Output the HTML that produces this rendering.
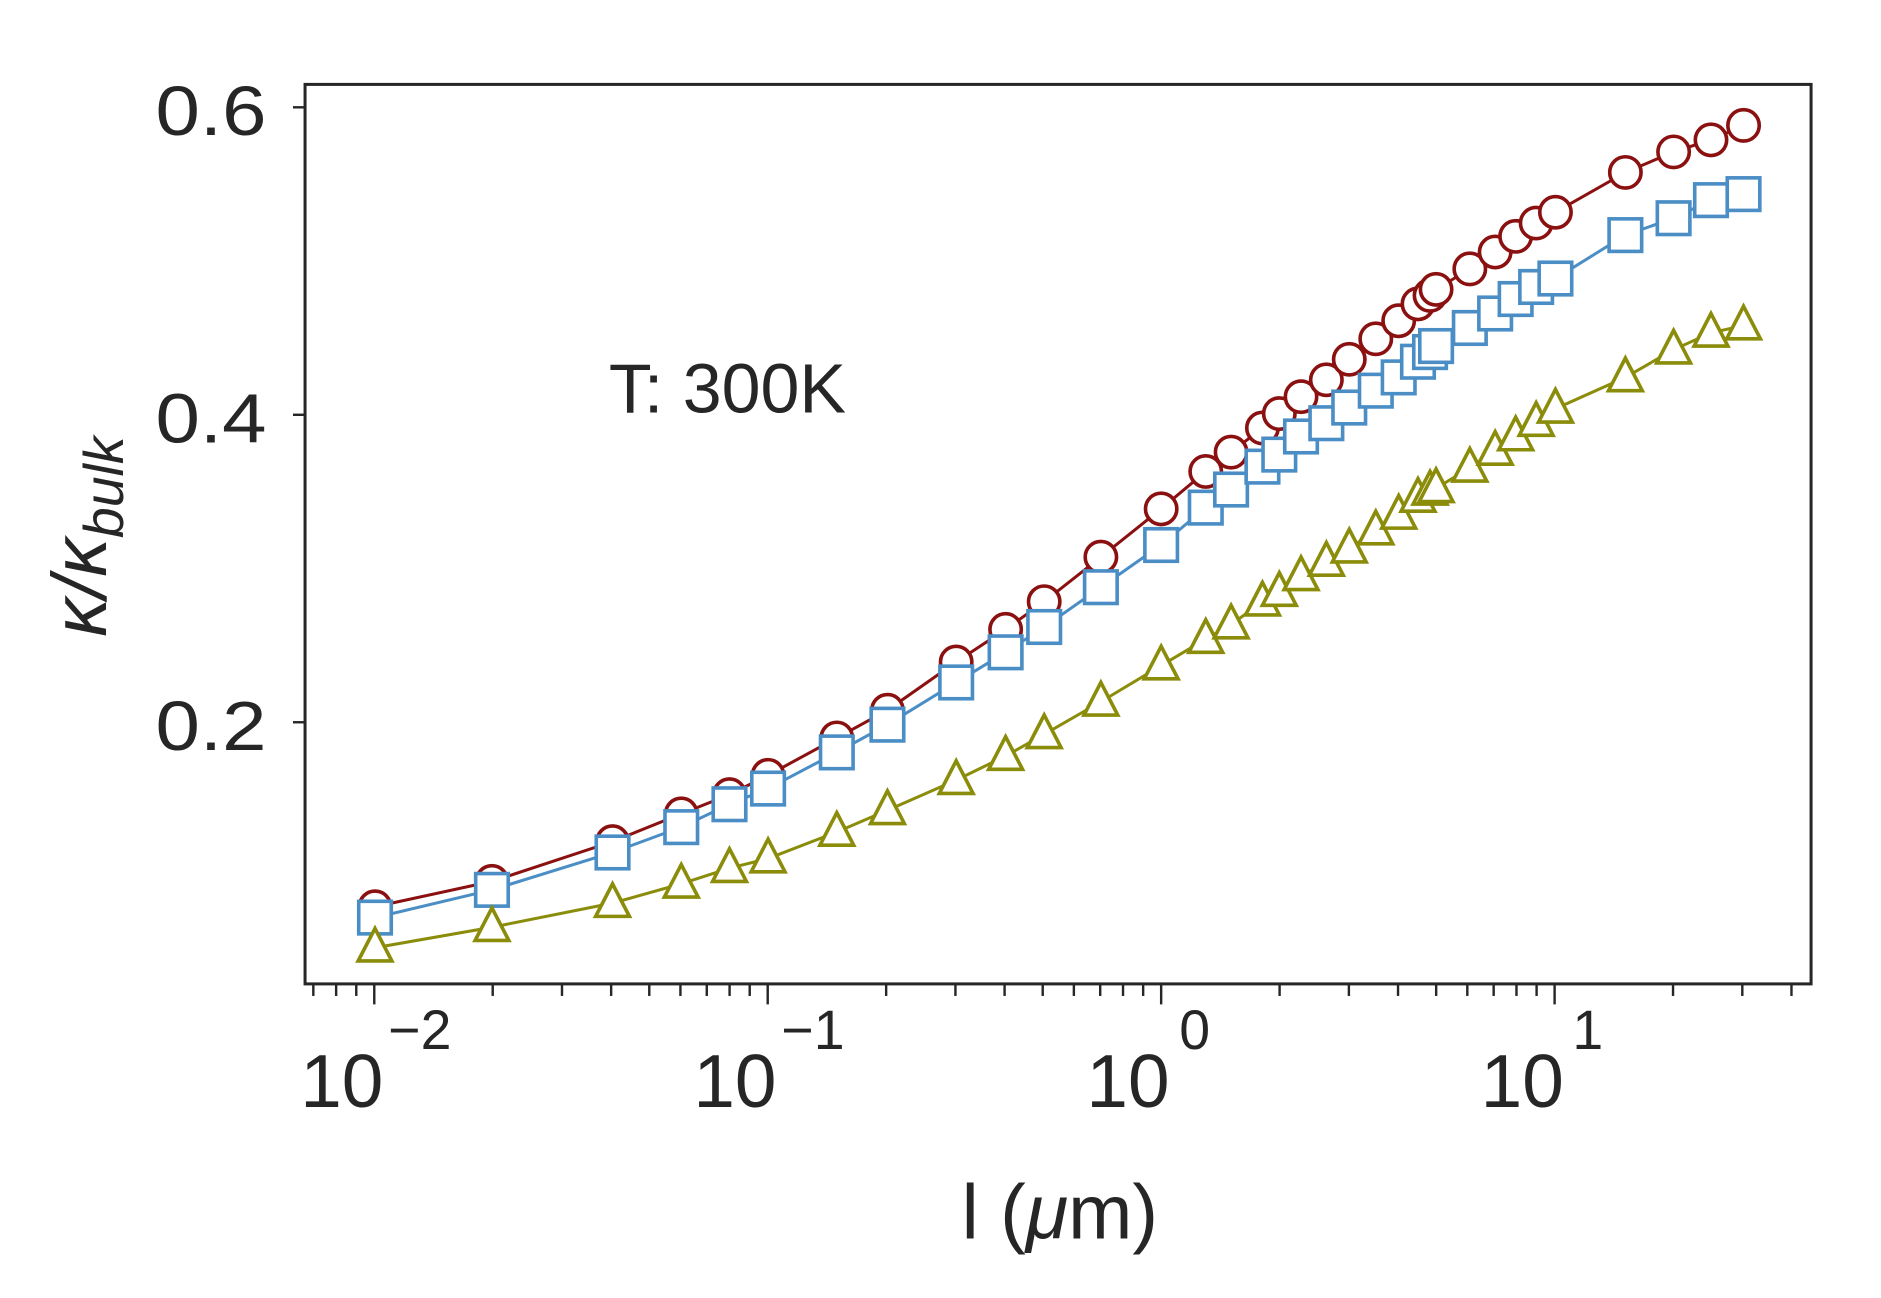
<!DOCTYPE html>
<html><head><meta charset="utf-8"><style>
html,body{margin:0;padding:0;background:#fff;}
svg{display:block;}
text{font-family:"Liberation Sans",sans-serif;fill:#262626;}
</style></head><body>
<svg width="1881" height="1298" viewBox="0 0 1560 1076.5" preserveAspectRatio="none" xmlns="http://www.w3.org/2000/svg">
<rect x="253" y="70" width="1249" height="746" fill="#fff" stroke="#262626" stroke-width="2.5"/>
<g stroke="#262626" stroke-width="2">
<line x1="243" y1="89" x2="253" y2="89"/>
<line x1="243" y1="344" x2="253" y2="344"/>
<line x1="243" y1="599" x2="253" y2="599"/>
</g>
<g id="xt" stroke="#262626" stroke-width="2"></g>
<g font-size="58" text-anchor="end">
<text x="221" y="112" textLength="92" lengthAdjust="spacingAndGlyphs">0.6</text>
<text x="221" y="367" textLength="92" lengthAdjust="spacingAndGlyphs">0.4</text>
<text x="221" y="622" textLength="92" lengthAdjust="spacingAndGlyphs">0.2</text>
</g>
<g font-size="62">
<text x="249" y="918">10</text><text x="322" y="870" font-size="46">−2</text>
<text x="575" y="918">10</text><text x="648" y="870" font-size="46">−1</text>
<text x="901" y="918">10</text><text x="978" y="870" font-size="46">0</text>
<text x="1228" y="918">10</text><text x="1304" y="870" font-size="46">1</text>
</g>
<text x="879" y="1027" font-size="64" text-anchor="middle">l (<tspan font-style="italic">μ</tspan>m)</text>
<text transform="translate(88,445) rotate(-90)" font-size="64" text-anchor="middle" font-style="italic">κ/κ<tspan font-size="46" dy="14">bulk</tspan></text>
<text x="505" y="342" font-size="58">T: 300K</text>
<g id="data"></g>
</svg>
<script>
var ns="http://www.w3.org/2000/svg";
function el(t,a,p){var e=document.createElementNS(ns,t);for(var k in a)e.setAttribute(k,a[k]);p.appendChild(e);return e;}
var xt=document.getElementById('xt');
for(var d=-3;d<=1;d++)for(var m=1;m<10;m++){var v=m*Math.pow(10,d);var x=963+326.3*Math.log10(v);if(x<255||x>1500)continue;el('line',{x1:x,y1:816,x2:x,y2:m==1?833:826},xt);}
var xs=[311,408,508,565,605,637,694,736,793,834,866,913,963,1000,1021,1047,1061,1079,1100,1119,1141,1160,1176,1186,1191,1219,1240,1257,1274,1290,1348,1388,1419,1446];
var r=[752,731,698,675,659,643,612,589,549,522,499,462,422,391,375,355,343,329,315,298,281,266,252,245,240,223,209,196,185,176,143,126,116,104];
var b=[761,738,707,686,667,654,624,601,566,541,520,487,452,421,406,387,377,362,351,338,324,313,300,292,287,272,260,248,238,231,195,181,166,161];
var g=[786,769,749,733,720,712,690,672,647,627,609,582,552,530,518,499,491,478,466,455,440,427,413,407,405,388,374,362,350,339,313,290,276,270];
var D=document.getElementById('data');
function series(ys,col,kind){
 var pts=xs.map(function(x,i){return x+','+ys[i]}).join(' ');
 el('polyline',{points:pts,fill:'none',stroke:col,'stroke-width':2.5},D);
 xs.forEach(function(x,i){var y=ys[i];
  if(kind=='c')el('circle',{cx:x,cy:y,r:13,fill:'#fff',stroke:col,'stroke-width':3},D);
  else if(kind=='s')el('rect',{x:x-13.5,y:y-13.5,width:27,height:27,fill:'#fff',stroke:col,'stroke-width':3},D);
  else el('polygon',{points:(x)+','+(y-16)+' '+(x-14)+','+(y+11)+' '+(x+14)+','+(y+11),fill:'#fff',stroke:col,'stroke-width':3},D);
 });
}
series(r,'#8b1010','c');
series(b,'#4b8ec6','s');
series(g,'#8a8c0a','t');
</script>
</body></html>
